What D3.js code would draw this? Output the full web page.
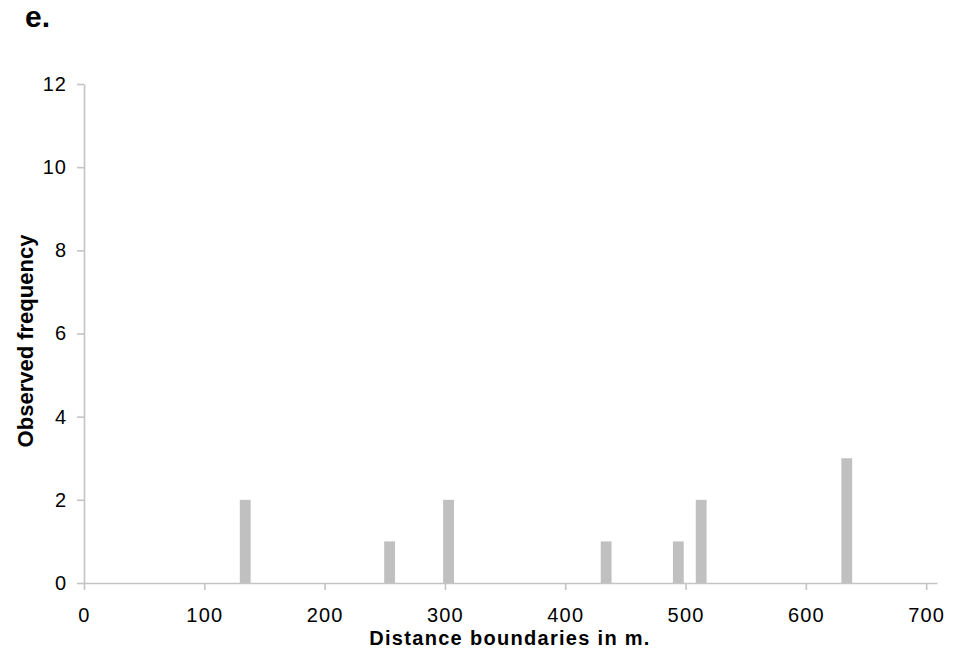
<!DOCTYPE html>
<html>
<head>
<meta charset="utf-8">
<script src="https://cdn.jsdelivr.net/npm/d3@7"></script>
<style>
  html, body { margin: 0; padding: 0; background: #ffffff; }
  #viz { width: 955px; height: 669px; }
  text { font-family: "Liberation Sans", Arial, sans-serif; fill: #000; }
</style>
</head>
<body>
<div id="viz"></div>
<script>
// distance bins (centre, m) and observed counts
const binCentres = [134, 254, 303, 434, 494, 513, 634];
const frequencies = [2, 1, 2, 1, 1, 2, 3];
const xTicks = [0, 100, 200, 300, 400, 500, 600, 700];
const yTicks = [0, 2, 4, 6, 8, 10, 12];
const binWidth = 9;

const panelLabel = "e.";
const xTitle = "Distance boundaries in m.";
const yTitle = "Observed frequency";

const width = 955;
const height = 669;
const axisColor = "#c4c4c4";
const barColor = "#c0c0c0";

function drawChart() {
  const svg = d3.select("#viz").append("svg")
    .attr("width", width)
    .attr("height", height);

  const x = d3.scaleLinear().domain([0, 709]).range([84, 937]);
  const y = d3.scaleLinear().domain([0, 12]).range([583, 84]);

  // bars
  svg.append("g")
    .selectAll("rect")
    .data(binCentres)
    .join("rect")
    .attr("x", (d) => x(d - binWidth / 2))
    .attr("width", (d) => x(d + binWidth / 2) - x(d - binWidth / 2))
    .attr("y", (d, i) => y(frequencies[i]))
    .attr("height", (d, i) => y(0) - y(frequencies[i]))
    .attr("fill", barColor);

  // x axis
  const xAxis = svg.append("g")
    .attr("transform", `translate(0,${y(0)})`)
    .call(d3.axisBottom(x).tickValues(xTicks).tickSize(7).tickSizeOuter(0).tickPadding(18));
  xAxis.select(".domain").attr("stroke", axisColor).attr("stroke-width", 1.6);
  xAxis.selectAll(".tick line").attr("stroke", axisColor).attr("stroke-width", 1.6);
  xAxis.selectAll(".tick text")
    .attr("font-size", 20)
    .attr("letter-spacing", "1.2px")
    .attr("font-family", "Liberation Sans, Arial, sans-serif");

  // y axis
  const yAxis = svg.append("g")
    .attr("transform", `translate(${x(0)},0)`)
    .call(d3.axisLeft(y).tickValues(yTicks).tickSize(7).tickSizeOuter(0).tickPadding(10));
  yAxis.select(".domain").attr("stroke", axisColor).attr("stroke-width", 1.6);
  yAxis.selectAll(".tick line").attr("stroke", axisColor).attr("stroke-width", 1.6);
  yAxis.selectAll(".tick text")
    .attr("font-size", 20)
    .attr("letter-spacing", "1px")
    .attr("font-family", "Liberation Sans, Arial, sans-serif");

  // titles
  svg.append("text")
    .attr("x", 510)
    .attr("y", 645)
    .attr("text-anchor", "middle")
    .attr("font-size", 20)
    .attr("font-weight", "bold")
    .attr("letter-spacing", "1.3px")
    .text(xTitle);

  svg.append("text")
    .attr("transform", "translate(33,341) rotate(-90)")
    .attr("text-anchor", "middle")
    .attr("font-size", 22)
    .attr("font-weight", "bold")
    .text(yTitle);

  svg.append("text")
    .attr("x", 25)
    .attr("y", 27)
    .attr("font-size", 30)
    .attr("font-weight", "bold")
    .text(panelLabel);
}

drawChart();
</script>
</body>
</html>
